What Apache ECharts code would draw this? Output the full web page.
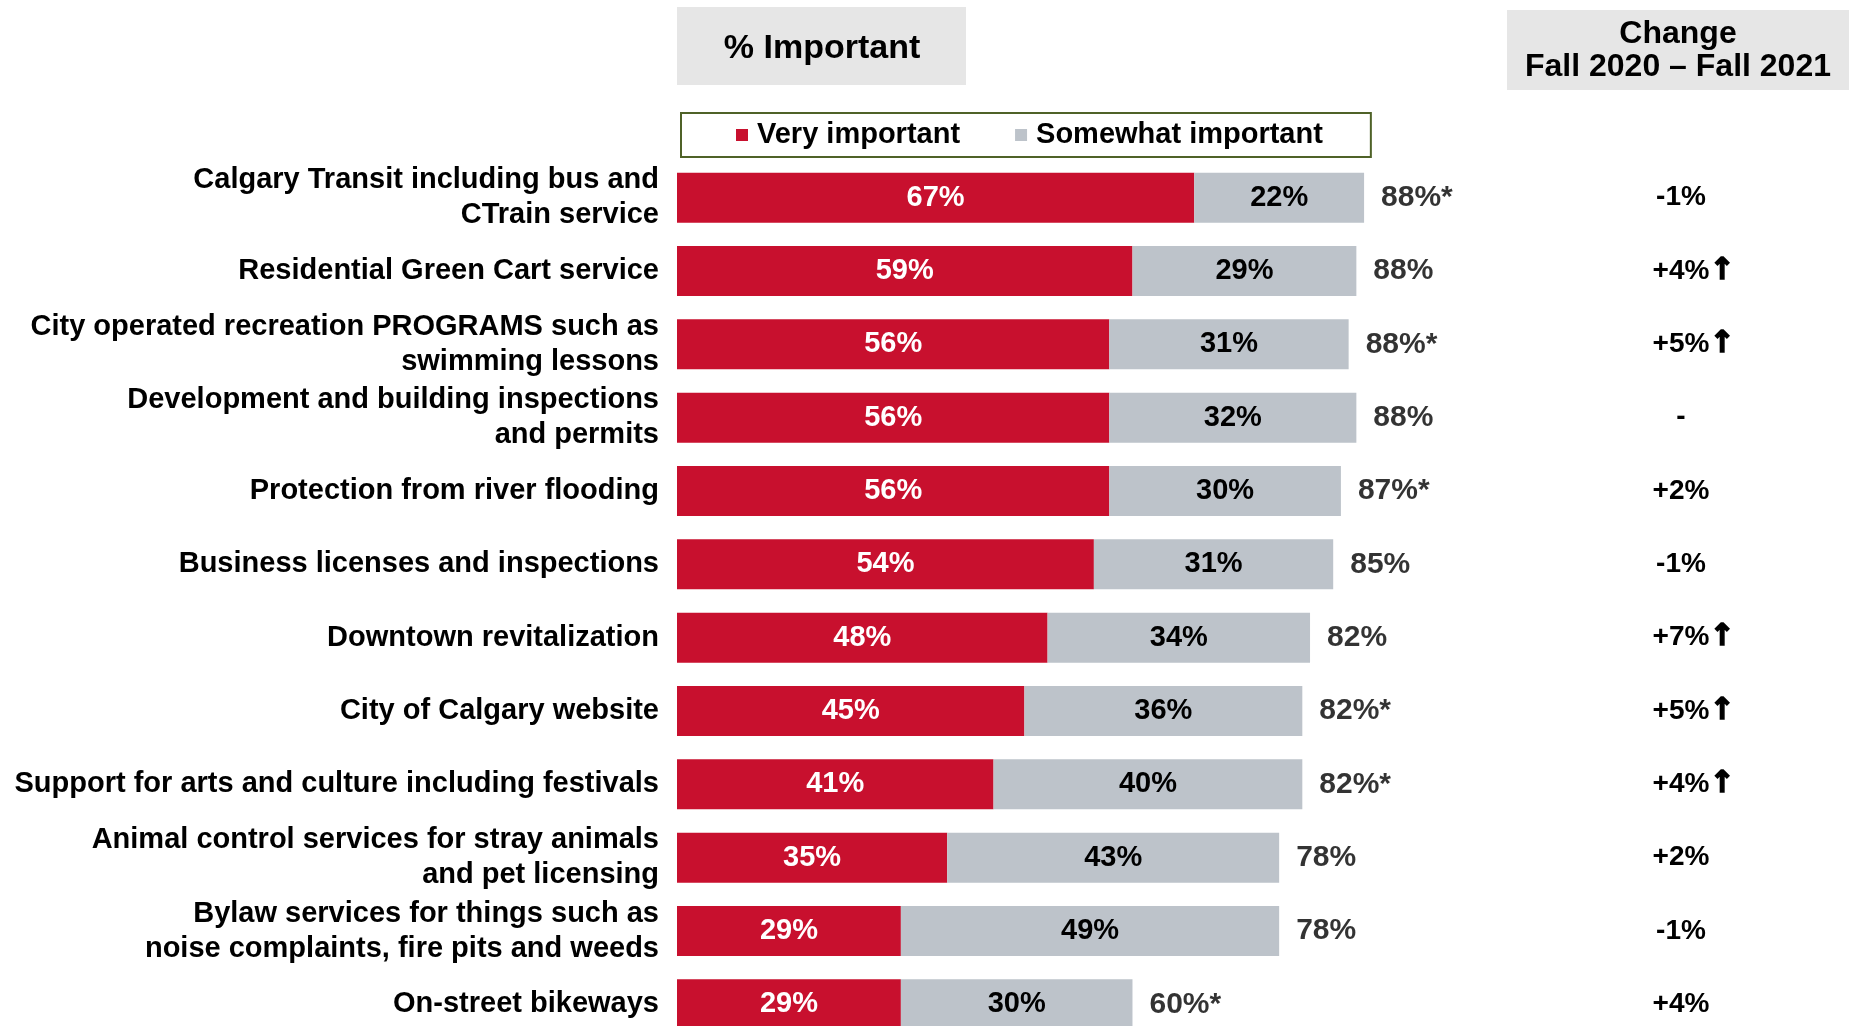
<!DOCTYPE html>
<html>
<head>
<meta charset="utf-8">
<script src="https://cdn.jsdelivr.net/npm/echarts@6/dist/echarts.min.js"></script>
<style>
  html, body { margin: 0; padding: 0; background: #fff; }
  #main { width: 1849px; height: 1026px; }
</style>
</head>
<body>
<div id="main"></div>
<script>
var categories = [
  'Calgary Transit including bus and\nCTrain service',
  'Residential Green Cart service',
  'City operated recreation PROGRAMS such as\nswimming lessons',
  'Development and building inspections\nand permits',
  'Protection from river flooding',
  'Business licenses and inspections',
  'Downtown revitalization',
  'City of Calgary website',
  'Support for arts and culture including festivals',
  'Animal control services for stray animals\nand pet licensing',
  'Bylaw services for things such as\nnoise complaints, fire pits and weeds',
  'On-street bikeways'
];
var veryImportant = [67, 59, 56, 56, 56, 54, 48, 45, 41, 35, 29, 29];
var somewhatImportant = [22, 29, 31, 32, 30, 31, 34, 36, 40, 43, 49, 30];
var totalLabels = ['88%*', '88%', '88%*', '88%', '87%*', '85%', '82%', '82%*', '82%*', '78%', '78%', '60%*'];
var changeValues = ['-1%', '+4%', '+5%', '-', '+2%', '-1%', '+7%', '+5%', '+4%', '+2%', '-1%', '+4%'];
var changeUp = [false, true, true, false, false, false, true, true, true, false, false, false];

var RED = '#C8102E';
var GREY = '#BDC3CA';
var FONT = 'Liberation Sans, Arial, sans-serif';

var myChart = echarts.init(document.getElementById('main'));

var stackEnds = veryImportant.map(function (v, i) { return v + somewhatImportant[i]; });

var option = {
  animation: false,
  textStyle: { fontFamily: FONT },
  grid: { left: 677, width: 772, top: 161, height: 880, outerBoundsMode: 'none' },
  legend: {
    data: ['Very important', 'Somewhat important'],
    left: 681,
    top: 113,
    padding: [5, 48, 5, 55],
    borderColor: '#4F6228',
    borderWidth: 2,
    itemWidth: 12,
    itemHeight: 12,
    itemGap: 55,
    icon: 'rect',
    textStyle: { fontFamily: FONT, fontSize: 29, fontWeight: 'bold', color: '#000', lineHeight: 34, padding: [0, 0, 0, 4] }
  },
  graphic: [
    { type: 'rect', shape: { x: 677, y: 7, width: 289, height: 78 }, style: { fill: '#E6E6E6' } },
    { type: 'text', x: 822, y: 49, style: { text: '% Important', font: 'bold 34px ' + FONT, fill: '#000', align: 'center', verticalAlign: 'middle' } },
    { type: 'rect', shape: { x: 1507, y: 10, width: 342, height: 80 }, style: { fill: '#E6E6E6' } },
    { type: 'text', x: 1678, y: 51, style: { text: 'Change\nFall 2020 \u2013 Fall 2021', font: 'bold 32px ' + FONT, lineHeight: 33, fill: '#000', align: 'center', verticalAlign: 'middle' } }
  ],
  xAxis: { type: 'value', min: 0, max: 100, show: false },
  yAxis: [
    {
      type: 'category',
      inverse: true,
      data: categories,
      axisLine: { show: false },
      axisTick: { show: false },
      axisLabel: {
        interval: 0,
        margin: 18,
        fontFamily: FONT,
        fontSize: 29,
        fontWeight: 'bold',
        color: '#000',
        lineHeight: 35,
        align: 'right'
      }
    },
    {
      type: 'category',
      inverse: true,
      position: 'right',
      data: categories,
      axisLine: { show: false },
      axisTick: { show: false },
      axisLabel: {
        interval: 0,
        margin: 232,
        align: 'center',
        formatter: function (v, i) {
          if (changeUp[i]) return '{pad|\u2191}{t|' + changeValues[i] + '}{arr|\u2191}';
          return '{t|' + changeValues[i] + '}';
        },
        rich: {
          t: { fontFamily: FONT, fontSize: 28, fontWeight: 'bold', color: '#000' },
          arr: { fontFamily: 'DejaVu Sans', fontSize: 30, fontWeight: 'bold', color: '#000', textBorderColor: '#000', textBorderWidth: 1.5 },
          pad: { fontFamily: 'DejaVu Sans', fontSize: 30, fontWeight: 'bold', color: 'rgba(0,0,0,0)' }
        }
      }
    }
  ],
  series: [
    {
      name: 'Very important',
      type: 'bar',
      stack: 'imp',
      barWidth: 50,
      itemStyle: { color: RED },
      label: {
        show: true, position: 'inside', color: '#fff',
        fontFamily: FONT, fontSize: 29, fontWeight: 'bold',
        formatter: '{c}%'
      },
      data: veryImportant
    },
    {
      name: 'Somewhat important',
      type: 'bar',
      stack: 'imp',
      barWidth: 50,
      itemStyle: { color: GREY },
      label: {
        show: true, position: 'inside', color: '#000',
        fontFamily: FONT, fontSize: 29, fontWeight: 'bold',
        formatter: '{c}%'
      },
      data: somewhatImportant
    },
    {
      name: 'Total',
      type: 'scatter',
      symbolSize: 0,
      silent: true,
      label: {
        show: true, position: 'right', distance: 17, color: '#000',
        fontFamily: FONT, fontSize: 30, fontWeight: 'bold',
        formatter: function (p) { return totalLabels[p.dataIndex]; }
      },
      data: stackEnds.map(function (v, i) { return [v, categories[i]]; })
    }
  ]
};
myChart.setOption(option);
</script>
</body>
</html>
